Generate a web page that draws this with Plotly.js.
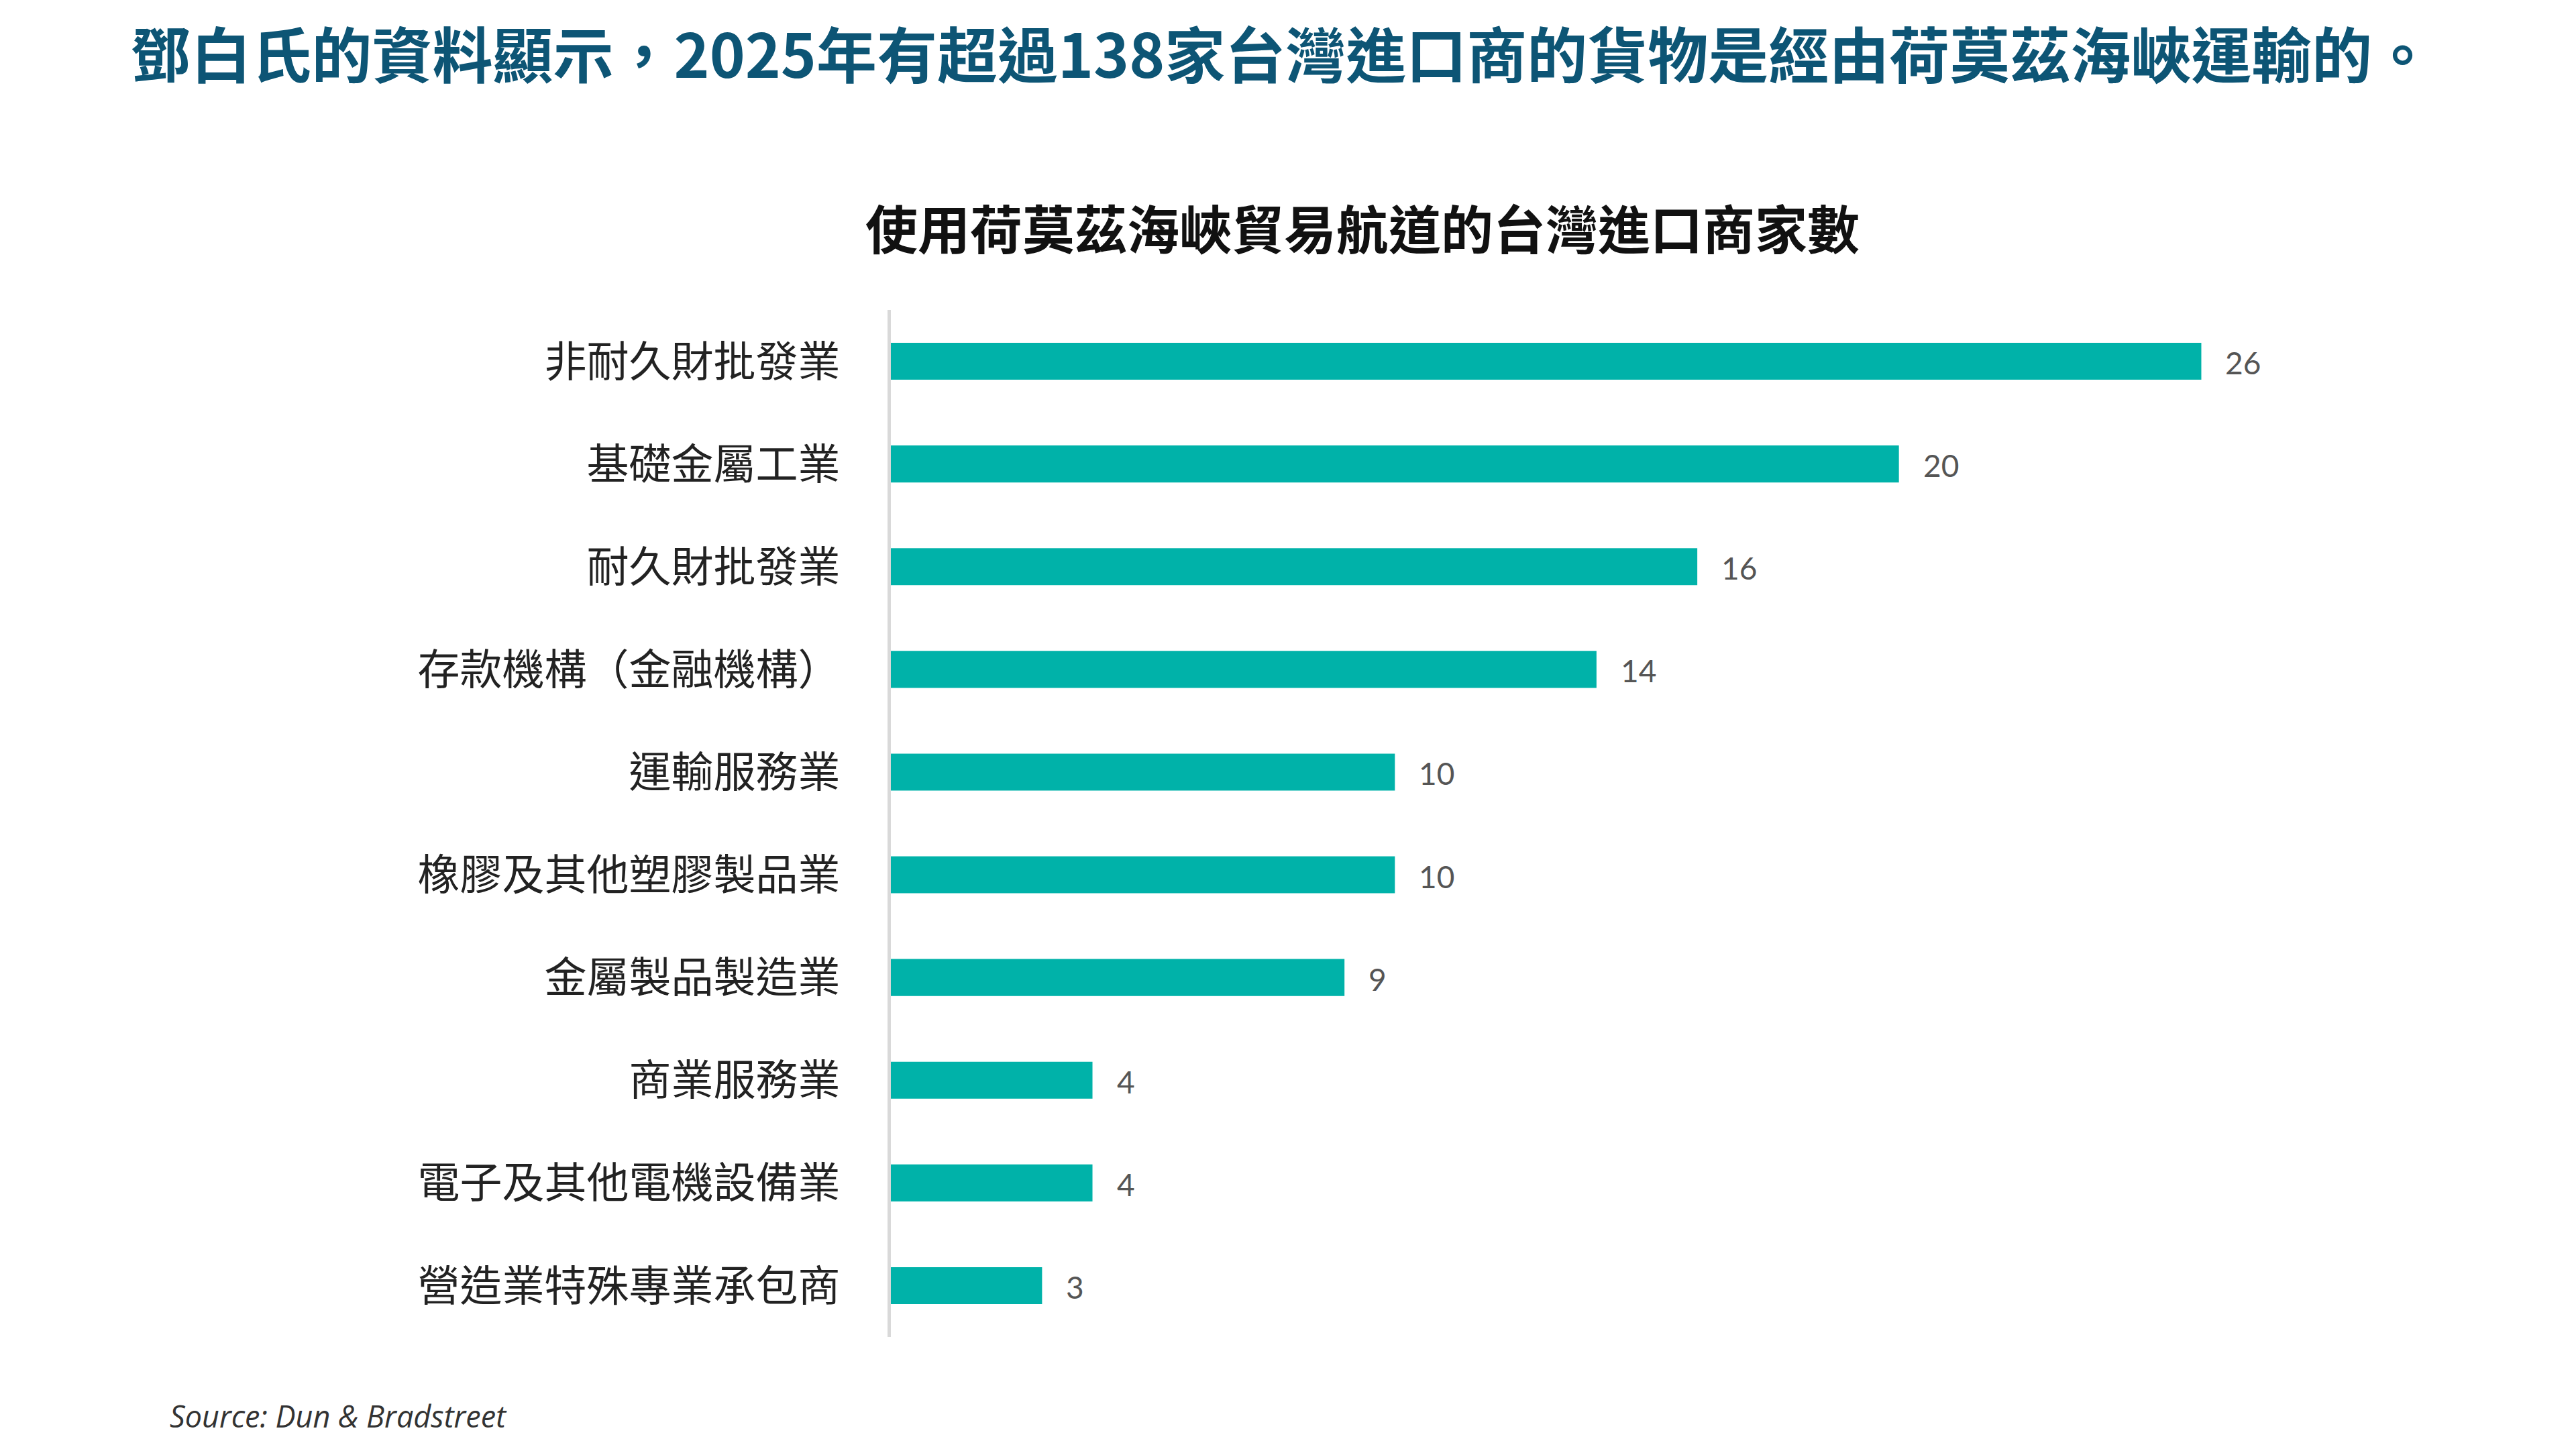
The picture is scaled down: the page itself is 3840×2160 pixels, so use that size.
<!DOCTYPE html>
<html>
<head>
<meta charset="utf-8">
<script src="https://cdn.plot.ly/plotly-3.0.1.min.js"></script>
<style>
  html, body { margin: 0; padding: 0; background: #ffffff; }
  #chart { width: 3840px; height: 2160px; }
</style>
</head>
<body>
<div id="chart"></div>
<script>
// ---- Data ----
const categories = [
  "非耐久財批發業",
  "基礎金屬工業",
  "耐久財批發業",
  "存款機構（金融機構）",
  "運輸服務業",
  "橡膠及其他塑膠製品業",
  "金屬製品製造業",
  "商業服務業",
  "電子及其他電機設備業",
  "營造業特殊專業承包商"
];
const importerCounts = [26, 20, 16, 14, 10, 10, 9, 4, 4, 3];

const mainTitle = "鄧白氏的資料顯示，2025年有超過138家台灣進口商的貨物是經由荷莫茲海峽運輸的。";
const chartTitle = "使用荷莫茲海峽貿易航道的台灣進口商家數";
const sourceText = "Source: Dun & Bradstreet";

// ---- Styles ----
const cjk = "'Noto Sans CJK TC', 'Noto Sans CJK SC', 'Noto Sans', sans-serif";
const barColor = "#00b2a9";

const trace = {
  type: "bar",
  orientation: "h",
  x: importerCounts,
  y: categories,
  marker: { color: barColor, line: { width: 0 } },
  hoverinfo: "none"
};

const valueAnnotations = categories.map((c, i) => ({
  x: importerCounts[i],
  y: c,
  xref: "x",
  yref: "y",
  text: String(importerCounts[i]),
  showarrow: false,
  xanchor: "left",
  yanchor: "middle",
  xshift: 34,
  yshift: -2,
  font: { family: "Lato, 'Open Sans', sans-serif", size: 46, color: "#555555" }
}));

const layout = {
  width: 3840,
  height: 2160,
  paper_bgcolor: "#ffffff",
  plot_bgcolor: "#ffffff",
  margin: { l: 1328, r: 258, t: 462, b: 167, pad: 0 },
  bargap: 0.64,
  showlegend: false,
  title: {
    text: "<b>" + mainTitle + "</b>",
    font: { family: cjk, size: 90, color: "#0d5575", weight: 700 },
    xref: "container",
    yref: "container",
    x: 0.4975,
    xanchor: "center",
    y: 1 - 84 / 2160,
    yanchor: "middle"
  },
  xaxis: {
    range: [0, 30],
    visible: false,
    showgrid: false,
    zeroline: false,
    fixedrange: true
  },
  yaxis: {
    type: "category",
    autorange: "reversed",
    showline: true,
    linecolor: "#d9d9d9",
    linewidth: 5,
    showgrid: false,
    zeroline: false,
    ticks: "",
    ticklabelstandoff: 58,
    tickfont: { family: cjk, size: 63, color: "#222222" },
    fixedrange: true
  },
  annotations: valueAnnotations.concat([
    {
      text: "<b>" + chartTitle + "</b>",
      xref: "paper",
      yref: "paper",
      x: (2031 - 1328) / (3840 - 1328 - 258),
      y: 1 + (462 - 338) / (2160 - 462 - 167),
      xanchor: "center",
      yanchor: "middle",
      showarrow: false,
      font: { family: cjk, size: 78, color: "#111111" }
    },
    {
      text: "<i>" + sourceText + "</i>",
      xref: "paper",
      yref: "paper",
      x: (251 - 1328) / (3840 - 1328 - 258),
      y: -(2110 - 1993) / (2160 - 462 - 167),
      xanchor: "left",
      yanchor: "middle",
      showarrow: false,
      font: { family: "'Open Sans', Lato, sans-serif", size: 45, color: "#333333" }
    }
  ])
};

Plotly.newPlot("chart", [trace], layout, { staticPlot: true, displayModeBar: false });
</script>
</body>
</html>
